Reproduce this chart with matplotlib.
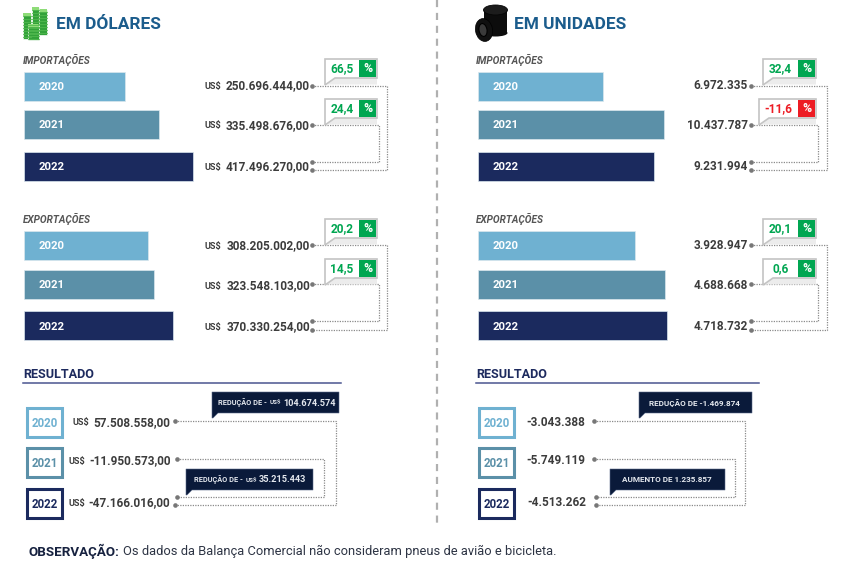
import matplotlib
matplotlib.use('Agg')
import matplotlib.pyplot as plt
from matplotlib.patches import Rectangle, Polygon, Ellipse

plt.rcParams['font.family'] = ['Roboto', 'DejaVu Sans']

# dados
anos = ['2020', '2021', '2022']
dolares_imp = [250.696444, 335.498676, 417.496270]
dolares_exp = [308.205002, 323.548103, 370.330254]
# comprimento das barras (a de 2022 nao segue o rotulo)
unidades_imp = [7.05, 10.44, 9.88]
unidades_exp = [3.93, 4.69, 4.72]

rot_dolares_imp = ['250.696.444,00', '335.498.676,00', '417.496.270,00']
rot_dolares_exp = ['308.205.002,00', '323.548.103,00', '370.330.254,00']
rot_unidades_imp = ['6.972.335', '10.437.787', '9.231.994']
rot_unidades_exp = ['3.928.947', '4.688.668', '4.718.732']
rot_res_dolares = ['57.508.558,00', '-11.950.573,00', '-47.166.016,00']
rot_res_unidades = ['-3.043.388', '-5.749.119', '-4.513.262']

pct_dolares_imp = ['66,5', '24,4']
pct_dolares_exp = ['20,2', '14,5']
pct_unidades_imp = ['32,4', '-11,6']
pct_unidades_exp = ['20,1', '0,6']

# cores e medidas em pixels
cores = ['#6fb1d1', '#5b90a8', '#1b2a5e']
VERDE = '#00a651'
VERMELHO = '#ed1c24'
CINZA = '#8a8a8a'
ESCURO = '#0a1a3a'
TEXTO = '#3c3c3c'
AZUL = '#1b5c8c'
NAVY = '#1d2a5e'

fig = plt.figure(figsize=(8.5, 5.66), dpi=100, facecolor='white')
bg = fig.add_axes([0, 0, 1, 1])
bg.set_xlim(0, 850)
bg.set_ylim(566, 0)
bg.axis('off')


def barras(x0, largura, valores, ys):
    ax = fig.add_axes([x0 / 850, 0, largura / 850, 1])
    ax.set_xlim(0, max(valores))
    ax.set_ylim(566, 0)
    ax.axis('off')
    ax.patch.set_alpha(0)
    ax.barh(ys, valores, height=29, color=cores, edgecolor='#dbe7ee', linewidth=0.5, clip_on=False)
    for y, ano in zip(ys, anos):
        ax.annotate(ano, xy=(0, y), xytext=(15.5, -1), textcoords='offset pixels', color='white',
                    fontsize=8.2, fontweight='bold', va='center', ha='left')


def conector(x_dot, y1, y2, x_fim, x_dot2=None):
    x_dot2 = x_dot if x_dot2 is None else x_dot2
    bg.plot([x_dot, x_fim, x_fim, x_dot2], [y1, y1, y2, y2], color=CINZA, lw=0.9,
            linestyle=(0, (1, 1)), zorder=2)
    bg.scatter([x_dot, x_dot2], [y1, y2], s=11, color='#777777', zorder=3, linewidths=0)


def selo(x0, x1, y0, pct, cor):
    ym = y0 + 19
    xs = x1 - 18
    bg.add_patch(Polygon([(x0 + 2, y0 + 26), (x0 + 10, ym), (x1, ym), (x1, y0 + 26)],
                         fc='#ececec', ec='none', zorder=4))
    bg.add_patch(Polygon([(x0, y0 + 26), (x0, y0), (x1, y0), (x1, ym), (x0 + 10, ym)],
                         fc='white', ec='#c4c4c4', lw=1.2, zorder=5))
    bg.add_patch(Rectangle((xs, y0 + 1.5), 17, 17, fc=cor, ec='none', zorder=6))
    bg.text((x0 + xs) / 2, y0 + 10.5, pct, color=cor, fontsize=8.6, fontweight='bold',
            ha='center', va='center', zorder=7)
    bg.text(xs + 8.5, y0 + 10.5, '%', color='white', fontsize=8.8, fontweight='bold',
            ha='center', va='center', zorder=7)


def balao(x0, x1, y0, partes):
    bg.add_patch(Polygon([(x0, y0), (x1, y0), (x1, y0 + 21), (x0 + 6, y0 + 21), (x0 + 1, y0 + 26), (x0, y0 + 26)],
                         fc=ESCURO, ec='#5a6a8a', lw=0.4, zorder=5))
    for x, txt, tam in partes:
        bg.text(x, y0 + 11, txt, color='#e4e8ee', fontsize=tam, fontweight='bold',
                ha='left', va='center', zorder=6)


def valores(x_dir, ys, rotulos, x_us=None):
    for i, (y, r) in enumerate(zip(ys, rotulos)):
        bg.text(x_dir, y + 0.7, r, color=TEXTO, fontsize=8.5, fontweight='bold', ha='right', va='center')
        if x_us is not None:
            bg.text(x_us[i], y + 1.2, 'US$', color=TEXTO, fontsize=6.6, fontweight='bold', ha='right', va='center')


# titulos
bg.text(56, 24.5, 'EM DÓLARES', color=AZUL, fontsize=12.4, fontweight='bold', va='center')
bg.text(514, 24.5, 'EM UNIDADES', color=AZUL, fontsize=12.4, fontweight='bold', va='center')

# icone dinheiro
for x, y0, y1, w in [(38, 10, 35, 9), (32, 8, 37, 7), (23, 14, 39, 8), (28, 25, 40, 11)]:
    bg.add_patch(Rectangle((x, y0), w, y1 - y0, fc='#33a23a', ec='white', lw=0.5))
    for yy in range(int(y0) + 2, int(y1), 3):
        bg.plot([x, x + w], [yy, yy], color='#52b84f', lw=0.6)
    bg.add_patch(Rectangle((x, y0 - 1), w, 2.5, fc='#8edc78', ec='none'))

# icone pneus
bg.add_patch(Rectangle((484, 10), 23.5, 23, fc='#0c0c0c', ec='none'))
bg.add_patch(Ellipse((495.5, 33), 24, 7, fc='#0c0c0c', ec='none'))
bg.add_patch(Ellipse((495.5, 10), 24, 10, fc='#1c1c1c', ec='#050505', lw=0.6))
bg.add_patch(Ellipse((484, 30), 17, 23, angle=-10, fc='#101010', ec='#000000', lw=0.5))
bg.add_patch(Ellipse((483, 30), 8, 13, angle=-10, fc='#3a3a3a', ec='#000000', lw=0.8))

# separador
bg.plot([437, 437], [0, 527], color='#b0b0b0', lw=1.6, linestyle=(0, (3.2, 2.6)))

# legendas
for x, y, t in [(23, 59.5, 'IMPORTAÇÕES'), (476, 59.5, 'IMPORTAÇÕES'), (23, 219, 'EXPORTAÇÕES'), (476, 219, 'EXPORTAÇÕES')]:
    bg.text(x, y, t, color='#555555', fontsize=7.2, fontweight='bold', style='italic', va='center')

# barras
ys_imp = [86, 124.5, 166]
ys_exp = [245, 284.5, 325.5]
barras(23.5, 169, dolares_imp, ys_imp)
barras(23.5, 149.5, dolares_exp, ys_exp)
barras(477.5, 186, unidades_imp, ys_imp)
barras(477.5, 189, unidades_exp, ys_exp)

# valores
valores(310, [85, 124.5, 166], rot_dolares_imp, [221, 221, 221])
valores(310, [245, 285, 326], rot_dolares_exp, [221, 221, 221])
valores(748, [85, 124.5, 166], rot_unidades_imp)
valores(748, [245, 285, 326], rot_unidades_exp)

# conectores e selos
conector(312, 85.5, 170, 387)
conector(312, 124.5, 161.5, 379)
conector(312, 245, 330, 387)
conector(312, 284, 321, 379)
conector(751, 85.5, 170, 827)
conector(751, 124.5, 161.5, 818)
conector(751, 245, 330, 827)
conector(751, 284, 321, 818)

selo(325, 377, 58.5, pct_dolares_imp[0], VERDE)
selo(325, 377, 98.5, pct_dolares_imp[1], VERDE)
selo(325, 377, 218.5, pct_dolares_exp[0], VERDE)
selo(325, 377, 258.5, pct_dolares_exp[1], VERDE)
selo(763, 816, 58.5, pct_unidades_imp[0], VERDE)
selo(759, 816, 98.5, pct_unidades_imp[1], VERMELHO)
selo(763, 816, 218.5, pct_unidades_exp[0], VERDE)
selo(763, 816, 258.5, pct_unidades_exp[1], VERDE)

# resultado
for x0, x1 in [(23, 341), (476, 759)]:
    bg.text(x0 + 0.5, 375, 'RESULTADO', color=NAVY, fontsize=9.1, fontweight='bold', va='center')
    bg.plot([x0, x1], [382.5, 382.5], color='#4a5590', lw=1.1)

ys_res = [422, 462, 503]
for x0 in (27.5, 479.5):
    for y, ano, cor in zip(ys_res, anos, cores):
        bg.add_patch(Rectangle((x0, y - 14.5), 35, 29.5, fc='white', ec=cor, lw=2.2))
        bg.text(x0 + 17.5, y + 1.5, ano, color=cor, fontsize=8.3, fontweight='bold', ha='center', va='center')

valores(170.5, [421.5, 460, 502], rot_res_dolares, [89, 85.5, 85.5])
valores(585, [421.5, 460], rot_res_unidades[:2])
valores(586.5, [502], rot_res_unidades[2:])

conector(175, 420.7, 505, 336)
conector(177, 459, 497, 324, 177)
conector(594.5, 420.7, 505, 745, 596)
conector(594.5, 459, 497, 735, 596)

balao(212, 339, 392, [(218, 'REDUÇÃO DE -', 5.3), (270, 'US$', 4.4), (283, '104.674.574', 6.6)])
balao(186, 313, 469, [(194.5, 'REDUÇÃO DE -', 5.3), (246, 'US$', 4.4), (258.5, '35.215.443', 6.6)])
balao(639, 752, 392, [(649.5, 'REDUÇÃO DE -1.469.874', 5.85)])
balao(610, 725, 469, [(622.5, 'AUMENTO DE 1.235.857', 5.85)])

# observacao
bg.text(29, 551, 'OBSERVAÇÃO:', color='#16213f', fontsize=9.6, fontweight='bold', va='center')
bg.text(123, 551, 'Os dados da Balança Comercial não consideram pneus de avião e bicicleta.',
        color='#2d3444', fontsize=9.27, va='center')

fig.savefig('out.png', dpi=100)
